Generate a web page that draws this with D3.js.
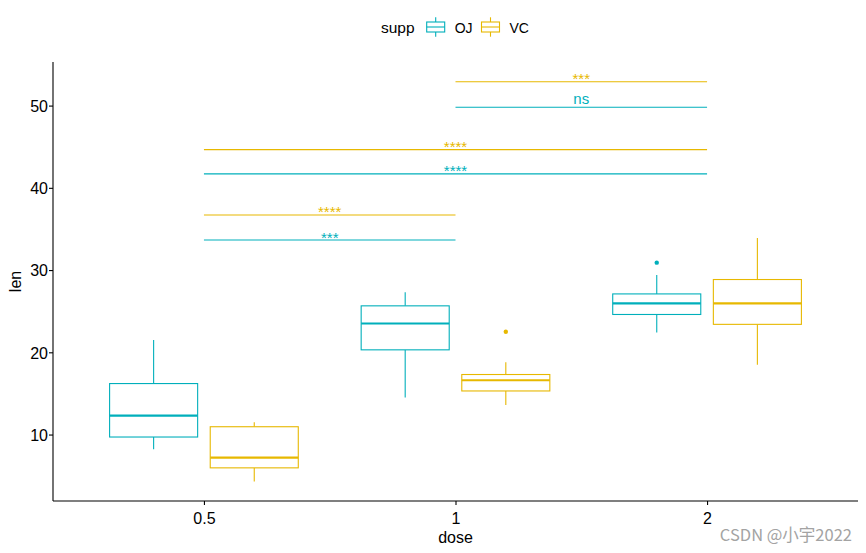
<!DOCTYPE html>
<html>
<head>
<meta charset="utf-8">
<script src="https://cdn.jsdelivr.net/npm/d3@7"></script>
<style>
  body { margin: 0; background: #fff; }
  text { font-family: "Liberation Sans", Arial, sans-serif; }
</style>
</head>
<body>
<svg id="chart" width="866" height="553"></svg>
<script>
// data
const doses = ['0.5', '1', '2']
const supps = ['OJ', 'VC']
const suppColors = ['#00AFBB', '#E7B800']

// one entry per box
const boxDose = ['0.5', '0.5', '1', '1', '2', '2']
const boxSupp = ['OJ', 'VC', 'OJ', 'VC', 'OJ', 'VC']
const boxLow = [8.2, 4.3, 14.5, 13.6, 22.4, 18.5]
const boxQ1 = [9.7, 5.95, 20.3, 15.3, 24.6, 23.4]
const boxMedian = [12.3, 7.2, 23.5, 16.6, 25.95, 25.95]
const boxQ3 = [16.2, 10.95, 25.65, 17.3, 27.1, 28.85]
const boxHigh = [21.5, 11.5, 27.3, 18.8, 29.4, 33.9]

// outliers
const outDose = ['1', '2']
const outSupp = ['VC', 'OJ']
const outValue = [22.5, 30.9]

// comparisons between doses
const cmpSupp = ['OJ', 'VC', 'OJ', 'VC', 'OJ', 'VC']
const cmpFrom = ['0.5', '0.5', '0.5', '0.5', '1', '1']
const cmpTo = ['1', '1', '2', '2', '2', '2']
const cmpY = [33.65, 36.7, 41.7, 44.65, 49.8, 52.9]
const cmpLabel = ['***', '****', '****', '****', 'ns', '***']

const yTicks = [10, 20, 30, 40, 50]

const svg = d3.select('#chart')
const color = d3.scaleOrdinal().domain(supps).range(suppColors)

const plotLeft = 53, plotRight = 858, plotTop = 62, plotBottom = 501
const fontSize = 15
const tickFont = 16
const titleFont = 16

const xScale = d3.scalePoint()
  .domain(doses)
  .range([plotLeft, plotRight])
  .padding(0.6)
const step = xScale.step()

// dodge position for each supplement inside a dose
const dodge = d3.scaleBand()
  .domain(supps)
  .range([-0.4 * step, 0.4 * step])
const boxW = 0.35 * step

const yScale = d3.scaleLinear()
  .domain([1.92, 55.3])
  .range([plotBottom, plotTop])

// axes
const yAxis = d3.axisLeft(yScale).tickValues(yTicks).tickSize(4).tickSizeOuter(0)
const gy = svg.append('g')
  .attr('transform', `translate(${plotLeft},0)`)
  .call(yAxis)
gy.select('.domain').attr('d', `M0,${plotTop}V${plotBottom}`)

const xAxis = d3.axisBottom(xScale).tickSize(4).tickSizeOuter(0)
const gx = svg.append('g')
  .attr('transform', `translate(0,${plotBottom})`)
  .call(xAxis)
gx.select('.domain').attr('d', `M${plotLeft},0H${plotRight}`)

svg.selectAll('.domain').style('stroke', '#000').style('stroke-width', 1.1)
svg.selectAll('.tick line').style('stroke', '#000').style('stroke-width', 1.1)
svg.selectAll('.tick text')
  .style('font-size', tickFont + 'px')
  .style('font-family', '"Liberation Sans", Arial, sans-serif')
  .style('fill', '#000')
gy.selectAll('.tick text').attr('x', -5).attr('dy', '0.36em')
gx.selectAll('.tick text').attr('y', 11).attr('dy', '0.76em')

// axis titles
svg.append('text')
  .attr('transform', 'rotate(-90)')
  .attr('x', -(plotTop + plotBottom) / 2)
  .attr('y', 21)
  .style('text-anchor', 'middle')
  .style('font-size', titleFont + 'px')
  .text('len')

svg.append('text')
  .attr('x', (plotLeft + plotRight) / 2)
  .attr('y', 543)
  .style('text-anchor', 'middle')
  .style('font-size', titleFont + 'px')
  .text('dose')

// boxes
const boxes = boxDose.map((d, i) => ({
  dose: d, supp: boxSupp[i], low: boxLow[i], q1: boxQ1[i],
  median: boxMedian[i], q3: boxQ3[i], high: boxHigh[i]
}))
const cx = d => xScale(d.dose) + dodge(d.supp) + dodge.bandwidth() / 2

const gBox = svg.append('g')
  .selectAll('g')
  .data(boxes)
  .join('g')
  .style('stroke', d => color(d.supp))
  .style('fill', 'none')

gBox.append('line')
  .attr('x1', cx).attr('x2', cx)
  .attr('y1', d => yScale(d.high)).attr('y2', d => yScale(d.q3))
  .style('stroke-width', 1.1)
gBox.append('line')
  .attr('x1', cx).attr('x2', cx)
  .attr('y1', d => yScale(d.q1)).attr('y2', d => yScale(d.low))
  .style('stroke-width', 1.1)
gBox.append('rect')
  .attr('x', d => cx(d) - boxW / 2)
  .attr('width', boxW)
  .attr('y', d => yScale(d.q3))
  .attr('height', d => yScale(d.q1) - yScale(d.q3))
  .style('fill', '#fff')
  .style('stroke-width', 1.1)
gBox.append('line')
  .attr('x1', d => cx(d) - boxW / 2).attr('x2', d => cx(d) + boxW / 2)
  .attr('y1', d => yScale(d.median)).attr('y2', d => yScale(d.median))
  .style('stroke-width', 2.2)

// outlier points
svg.append('g')
  .selectAll('circle')
  .data(outValue.map((v, i) => ({ dose: outDose[i], supp: outSupp[i], value: v })))
  .join('circle')
  .attr('cx', cx)
  .attr('cy', d => yScale(d.value))
  .attr('r', 2.2)
  .style('fill', d => color(d.supp))

// comparison lines with labels
const cmps = cmpY.map((y, i) => ({
  supp: cmpSupp[i], from: cmpFrom[i], to: cmpTo[i], y: y, label: cmpLabel[i]
}))
svg.append('g')
  .selectAll('line')
  .data(cmps)
  .join('line')
  .attr('x1', d => xScale(d.from))
  .attr('x2', d => xScale(d.to))
  .attr('y1', d => yScale(d.y))
  .attr('y2', d => yScale(d.y))
  .style('stroke', d => color(d.supp))
  .style('stroke-width', 1.1)

svg.append('g')
  .selectAll('text')
  .data(cmps)
  .join('text')
  .attr('x', d => (xScale(d.from) + xScale(d.to)) / 2)
  .attr('y', d => d.label === 'ns' ? yScale(d.y) - 3.5 : yScale(d.y) + 2.5)
  .style('text-anchor', 'middle')
  .style('font-size', fontSize + 'px')
  .style('fill', d => color(d.supp))
  .text(d => d.label)

// legend
svg.append('text')
  .attr('x', 381)
  .attr('y', 32.5)
  .style('font-size', '15.5px')
  .text('supp')

const legendX = [435.7, 490.5]
const gLeg = svg.append('g')
  .selectAll('g')
  .data(supps)
  .join('g')
  .attr('transform', (d, i) => `translate(${legendX[i]},27)`)

gLeg.append('line')
  .attr('x1', 0).attr('x2', 0).attr('y1', -9.7).attr('y2', 9.7)
  .style('stroke', d => color(d)).style('stroke-width', 1.1)
gLeg.append('rect')
  .attr('x', -9).attr('y', -5).attr('width', 18).attr('height', 10)
  .style('fill', '#fff')
  .style('stroke', d => color(d)).style('stroke-width', 1.1)
gLeg.append('line')
  .attr('x1', -9).attr('x2', 9).attr('y1', 0).attr('y2', 0)
  .style('stroke', d => color(d)).style('stroke-width', 1.1)
gLeg.append('text')
  .attr('x', 19)
  .attr('y', 5.5)
  .style('font-size', '14px')
  .text(d => d)

// watermark
svg.append('text')
  .attr('x', 852)
  .attr('y', 541)
  .style('text-anchor', 'end')
  .style('font-size', '16.5px')
  .style('font-family', '"Noto Sans CJK SC", "Liberation Sans", sans-serif')
  .style('fill', '#a3a3a3')
  .text('CSDN @小宇2022')
</script>
</body>
</html>
